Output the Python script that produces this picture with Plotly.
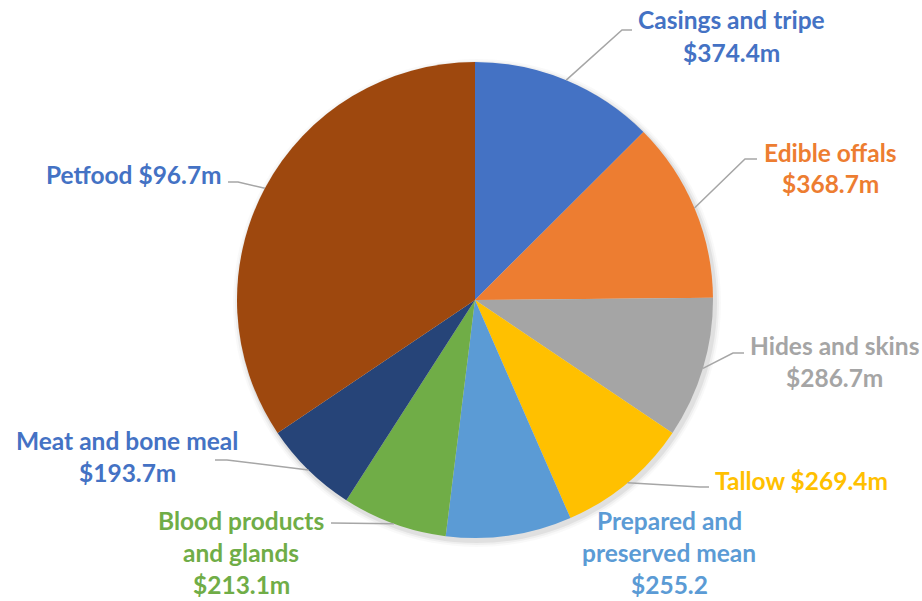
import math
import plotly.graph_objects as go

# Value of meat co-products by category ($m), clockwise from 12 o'clock
categories = [
    "Casings and tripe", "Edible offals", "Hides and skins", "Tallow",
    "Prepared and preserved mean", "Blood products and glands",
    "Meat and bone meal", "Petfood",
]
values = [374.4, 368.7, 286.7, 269.4, 255.2, 213.1, 193.7, 1030.0]
slice_colors = ["#4472C4", "#ED7D31", "#A5A5A5", "#FFC000",
                "#5B9BD5", "#70AD47", "#264478", "#9E480E"]

# Data label text, one list of lines per slice
label_lines = [
    ["Casings and tripe", "$374.4m"],
    ["Edible offals", "$368.7m"],
    ["Hides and skins", "$286.7m"],
    ["Tallow $269.4m"],
    ["Prepared and", "preserved mean", "$255.2"],
    ["Blood products", "and glands", "$213.1m"],
    ["Meat and bone meal", "$193.7m"],
    ["Petfood $96.7m"],
]
label_colors = ["#4472C4", "#ED7D31", "#A5A5A5", "#FFC000",
                "#5B9BD5", "#70AD47", "#4472C4", "#4472C4"]

W, H = 922, 601
CX, CY, R = 475, 300, 238          # pie centre and radius (px)
LINE_GAP = 32                      # spacing between label lines (px)
FONT = "Lato"
FSIZE = 24.5

# Label placement: centre x and first-line middle y (px)
label_pos = [
    (731, 20), (830, 152), (834, 345), (801, 480),
    (669, 520), (241, 520), (127, 440), (134, 175),
]
# Leader line: elbow point and end point next to the text (px); None = no line
leader = [
    ((622, 30), (632, 30)),
    ((745, 159), (757, 159)),
    ((733, 353), (744, 353)),
    ((700, 487), (709, 487)),
    None,
    ((331, 523), (331, 523)),
    ((227, 460), (215, 460)),
    ((238, 182), (228, 182)),
]


def px_to_paper(x, y):
    return x / W, 1 - y / H


fig = go.Figure()

x0, y1 = px_to_paper(CX - R, CY - R)
x1, y0 = px_to_paper(CX + R, CY + R)
fig.add_trace(go.Pie(
    labels=categories, values=values, sort=False, direction="clockwise",
    rotation=0, marker=dict(colors=slice_colors, line=dict(width=0)),
    textinfo="none", hoverinfo="label+value", showlegend=False,
    domain=dict(x=[x0, x1], y=[y0, y1]),
))

# soft drop shadow behind the pie
for k, op in [(6, 0.025), (4, 0.04), (2, 0.06)]:
    a0, b1 = px_to_paper(CX - R - k + 2, CY - R - k + 3)
    a1, b0 = px_to_paper(CX + R + k + 2, CY + R + k + 3)
    fig.add_shape(type="circle", xref="paper", yref="paper",
                  x0=a0, x1=a1, y0=b0, y1=b1, layer="below",
                  fillcolor=f"rgba(0,0,0,{op})", line=dict(width=0))

# leader lines from each slice's mid-angle on the rim
total = sum(values)
cum = 0.0
for i, v in enumerate(values):
    mid = (cum + v / 2) / total * 2 * math.pi
    cum += v
    if leader[i] is None:
        continue
    ex, ey = CX + R * math.sin(mid), CY - R * math.cos(mid)
    (bx, by), (tx, ty) = leader[i]
    pts = [px_to_paper(ex, ey), px_to_paper(bx, by), px_to_paper(tx, ty)]
    path = "M {} {} L {} {} L {} {}".format(*[c for p in pts for c in p])
    fig.add_shape(type="path", path=path, xref="paper", yref="paper",
                  line=dict(color="#A6A6A6", width=1.5), layer="above")

# data labels
for i, lines in enumerate(label_lines):
    lx, ly = label_pos[i]
    for j, txt in enumerate(lines):
        ax, ay = px_to_paper(lx, ly + j * LINE_GAP)
        fig.add_annotation(
            x=ax, y=ay, xref="paper", yref="paper", text=f"<b>{txt}</b>",
            showarrow=False, xanchor="center", yanchor="middle",
            font=dict(family=FONT, size=FSIZE, color=label_colors[i]),
        )

fig.update_layout(
    width=W, height=H, autosize=False,
    margin=dict(l=0, r=0, t=0, b=0),
    paper_bgcolor="white", plot_bgcolor="white",
)

fig.write_html("out.html")
